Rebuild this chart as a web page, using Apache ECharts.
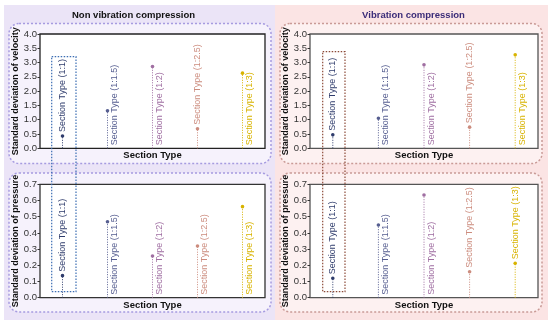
<!DOCTYPE html>
<html>
<head>
<meta charset="utf-8">
<script src="https://cdn.jsdelivr.net/npm/echarts@6/dist/echarts.min.js"></script>
<style>html,body{margin:0;padding:0;background:#fff}#c{width:550px;height:323px}</style>
</head>
<body>
<div id="c"></div>
<script>
// ---- data ----
const categories = ['1:1', '1:1.5', '1:2', '1:2.5', '1:3'];
const velocityNonVib = [0.43, 1.31, 2.86, 0.68, 2.63];
const velocityVib = [0.47, 1.05, 2.92, 0.74, 3.27];
const pressureNonVib = [0.136, 0.469, 0.257, 0.319, 0.562];
const pressureVib = [0.12, 0.449, 0.634, 0.16, 0.212];
const velocityTicks = [0, 0.5, 1, 1.5, 2, 2.5, 3, 3.5, 4];
const pressureTicks = [0, 0.1, 0.2, 0.3, 0.4, 0.5, 0.6, 0.7];

// ---- styles ----
const catColors = ['#2f3c6c', '#565e90', '#a06fa2', '#cc8c7e', '#d8b300'];
const FONT = 'Liberation Sans, Arial, sans-serif';

const panels = [
  {grid:{left:40, top:34, width:225, height:114.3}, data:velocityNonVib, ticks:velocityTicks, name:'Standard deviation of velocity', above:[1,0,0,1,0], frame:'#222'},
  {grid:{left:310, top:34, width:228, height:114.3}, data:velocityVib, ticks:velocityTicks, name:'Standard deviation of velocity', above:[1,0,0,1,0], frame:'#555'},
  {grid:{left:40, top:184.3, width:225, height:113.4}, data:pressureNonVib, ticks:pressureTicks, name:'Standard deviation of pressure', above:[1,0,0,0,0], frame:'#333'},
  {grid:{left:310, top:184.3, width:228, height:113.4}, data:pressureVib, ticks:pressureTicks, name:'Standard deviation of pressure', above:[1,0,0,1,1], frame:'#555'}
];

function makeRender(above) {
  return function (params, api) {
    const i = api.value(0);
    const v = api.value(1);
    const p = api.coord([i, v]);
    const b = api.coord([i, 0]);
    const col = catColors[i];
    const label = 'Section Type (' + categories[i] + ')';
    const textEl = above[i]
      ? {type:'text', x:p[0], y:p[1]-4, rotation:Math.PI/2,
         style:{text:label, fill:col, font:'9px ' + FONT, align:'left', verticalAlign:'middle'}}
      : {type:'text', x:b[0]+7.5, y:b[1]-3, rotation:Math.PI/2,
         style:{text:label, fill:col, font:'9px ' + FONT, align:'left', verticalAlign:'middle'}};
    return {type:'group', children:[
      {type:'line', shape:{x1:b[0], y1:b[1], x2:p[0], y2:p[1]},
       style:{stroke:col, lineWidth:1, lineDash:[1,1.5]}},
      {type:'circle', shape:{cx:p[0], cy:p[1], r:1.8}, style:{fill:col}},
      textEl
    ]};
  };
}

const grids = [], xAxes = [], yAxes = [], series = [];
panels.forEach((pn, k) => {
  grids.push(Object.assign({show:true, backgroundColor:'#fff', borderColor:pn.frame, borderWidth:1.3, containLabel:false}, pn.grid));
  xAxes.push({type:'category', gridIndex:k, data:categories, boundaryGap:true,
    axisLine:{show:false}, axisTick:{show:false}, axisLabel:{show:false},
    name:'Section Type', nameLocation:'middle', nameGap:2.5,
    nameTextStyle:{fontFamily:FONT, fontWeight:'bold', fontSize:9.5, color:'#111', verticalAlign:'top'}});
  const t = pn.ticks;
  yAxes.push({type:'value', gridIndex:k, min:t[0], max:t[t.length-1], interval:t[1]-t[0],
    axisLine:{show:false}, axisTick:{show:true, length:2.5, lineStyle:{color:'#333'}},
    splitLine:{show:false},
    axisLabel:{fontFamily:FONT, fontSize:9.5, color:'#333', margin:3, formatter:v => v.toFixed(1)},
    name:pn.name, nameLocation:'middle', nameGap:20,
    nameTextStyle:{fontFamily:FONT, fontWeight:'bold', fontSize:9, color:'#111'}});
  series.push({type:'custom', xAxisIndex:k, yAxisIndex:k, clip:false,
    data:pn.data.map((v, i) => [i, v]), encode:{x:0, y:1},
    renderItem:makeRender(pn.above), z:5});
});

function box(x, y, w, h, fill, stroke) {
  return {type:'rect', z:-9, shape:{x:x, y:y, width:w, height:h, r:10},
    style:{fill:fill, stroke:stroke, lineWidth:1.5, lineDash:[2,2]}};
}

const graphic = [
  {type:'rect', z:-10, shape:{x:4, y:5, width:271, height:315}, style:{fill:'#ebe4f7'}},
  {type:'rect', z:-10, shape:{x:275, y:5, width:273, height:315}, style:{fill:'#fbe4e4'}},
  box(9, 23.5, 262, 140, '#f6f2fc', '#a69be0'),
  box(9, 173, 262, 139, '#f6f2fc', '#a69be0'),
  box(280, 23.5, 262, 140, '#fdf1f1', '#c99a96'),
  box(280, 173, 262, 139, '#fdf1f1', '#c99a96'),
  {type:'text', z:10, x:133.5, y:15, style:{text:'Non vibration compression', fill:'#111', font:'bold 9.5px ' + FONT, align:'center', verticalAlign:'middle'}},
  {type:'text', z:10, x:413.5, y:15, style:{text:'Vibration compression', fill:'#3b2c78', font:'bold 9.5px ' + FONT, align:'center', verticalAlign:'middle'}},
  {type:'rect', z:50, shape:{x:51.7, y:56.7, width:24.3, height:235}, style:{fill:null, stroke:'#3b6db3', lineWidth:1.2, lineDash:[1.5,1.5]}},
  {type:'rect', z:50, shape:{x:322.7, y:51.7, width:22.3, height:240}, style:{fill:null, stroke:'#8c4a38', lineWidth:1.2, lineDash:[1.5,1.5]}}
];

const chart = echarts.init(document.getElementById('c'), null, {renderer:'canvas'});
chart.setOption({animation:false, backgroundColor:'#fff', grid:grids, xAxis:xAxes, yAxis:yAxes, series:series, graphic:graphic});
</script>
</body>
</html>
